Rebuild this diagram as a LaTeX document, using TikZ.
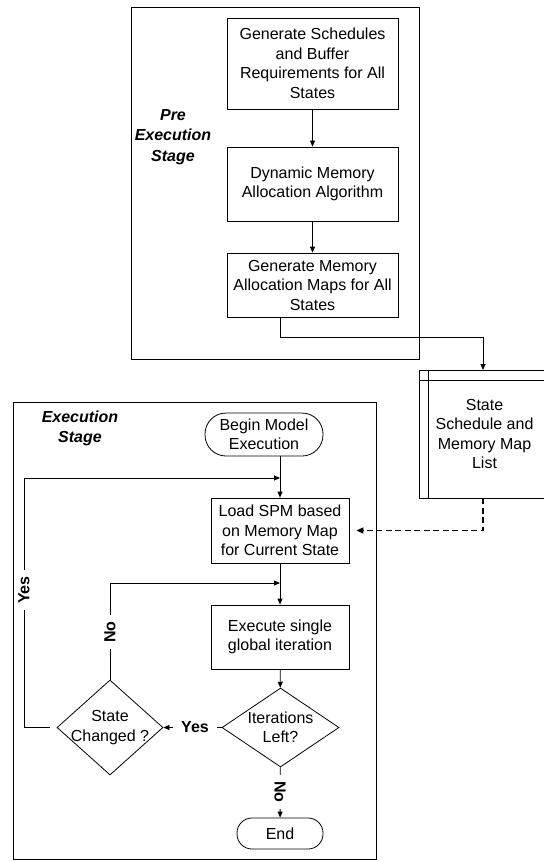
\documentclass[tikz,border=0pt]{standalone}
\usepackage{fontspec}
\setmainfont{Liberation Sans}
\usetikzlibrary{shapes.geometric,arrows.meta}
\begin{document}
\begin{tikzpicture}[x=1pt,y=-1pt,
  every node/.style={font=\fontsize{16}{19.5}\selectfont, align=center, inner sep=0pt},
  frame/.style={draw, line width=0.8pt},
  stepbox/.style={draw, line width=0.8pt, rectangle},
  term/.style={draw, line width=0.8pt, rectangle},
  decision/.style={draw, line width=0.8pt, diamond, inner sep=0pt},
  stage/.style={font=\bfseries\itshape\fontsize{16}{20.5}\selectfont},
  lbl/.style={font=\bfseries\fontsize{16}{19.5}\selectfont, fill=white, inner xsep=6pt, inner ysep=1pt},
  arr/.style={line width=0.8pt, -{Triangle[length=6pt,width=5pt]}},
  dasharr/.style={line width=1.5pt, dash pattern=on 6pt off 3.5pt, -{Triangle[length=7pt,width=6pt]}}
]
\useasboundingbox (0,0) rectangle (543,861);

% stage frames
\node[frame, minimum width=287.5pt, minimum height=351.5pt] (pre) at (275.25,183.25) {};
\node[frame, minimum width=363pt, minimum height=457pt] (exec) at (194.5,630.5) {};
\node[stage] (prelbl) at (173,137) {Pre\\Execution\\Stage};
\node[stage] (exelbl) at (80,428.5) {Execution\\Stage};

% pre execution steps
\node[stepbox, minimum width=171pt, minimum height=91pt] (box1) at (312.5,63.5)
  {Generate Schedules\\and Buffer\\Requirements for All\\States};
\node[stepbox, minimum width=171pt, minimum height=74pt] (box2) at (312.5,184)
  {Dynamic Memory\\Allocation Algorithm};
\node[stepbox, minimum width=171pt, minimum height=64pt] (box3) at (312.5,285)
  {Generate Memory\\Allocation Maps for All\\States};

% stored list
\node[stepbox, minimum width=131pt, minimum height=128pt] (list) at (484.5,434)
  {State\\Schedule and\\Memory Map\\List};
\draw[line width=0.8pt] ([xshift=10pt]list.north west) -- ([xshift=10pt]list.south west);
\draw[line width=0.8pt] ([yshift=-11pt]list.north west) -- ([yshift=-11pt]list.north east);

% execution steps
\node[term, rounded corners=21pt, minimum width=118pt, minimum height=43pt] (begin) at (264,434.5)
  {Begin Model\\Execution};
\node[stepbox, minimum width=138pt, minimum height=65pt] (load) at (280,530.5)
  {Load SPM based\\on Memory Map\\for Current State};
\node[stepbox, minimum width=138pt, minimum height=64pt] (exe) at (280,637)
  {Execute single\\global iteration};
\node[decision, minimum width=117pt, minimum height=79pt] (iter) at (280.5,727.5) {};
\node (itertxt) at (iter) {Iterations\\Left?};
\node[decision, minimum width=106pt, minimum height=95pt] (state) at (110,727.5) {};
\node (statetxt) at (state) {State\\Changed ?};
\node[term, rounded corners=15pt, minimum width=86pt, minimum height=31pt] (end) at (280,833.5) {End};

% connectors
\coordinate (feed) at (483,370);
\coordinate (yesc) at (24,478);
\coordinate (noc) at (110,583);

\draw[arr] (box1) -- (box2);
\draw[arr] (box2) -- (box3);
\draw[arr] (box3.south -| load.north) -- ++(0,20) -| (feed);
\draw[dasharr] (list.south -| feed) |- ([xshift=7pt]load.east);

\draw[arr] (begin.south -| load.north) -- (load.north);
\draw[arr] (load) -- (exe);
\draw[arr] (exe) -- (iter);
\draw[arr] (iter) -- (state);
\draw[arr] (iter) -- (end);
\draw[arr] ([xshift=-7pt]state.west) -| (yesc) -- (yesc -| load.north);
\draw[arr] (state.north) -- (noc) -- (noc -| load.north);

% branch labels
\node[lbl, inner xsep=8pt] (yesleft) at (195,727.5) {Yes};
\node[lbl, rotate=-90] (nodown) at (280,792) {No};
\node[lbl, rotate=90] (yesup) at (24,590) {Yes};
\node[lbl, rotate=90] (noup) at (110,632) {No};
\end{tikzpicture}
\end{document}
